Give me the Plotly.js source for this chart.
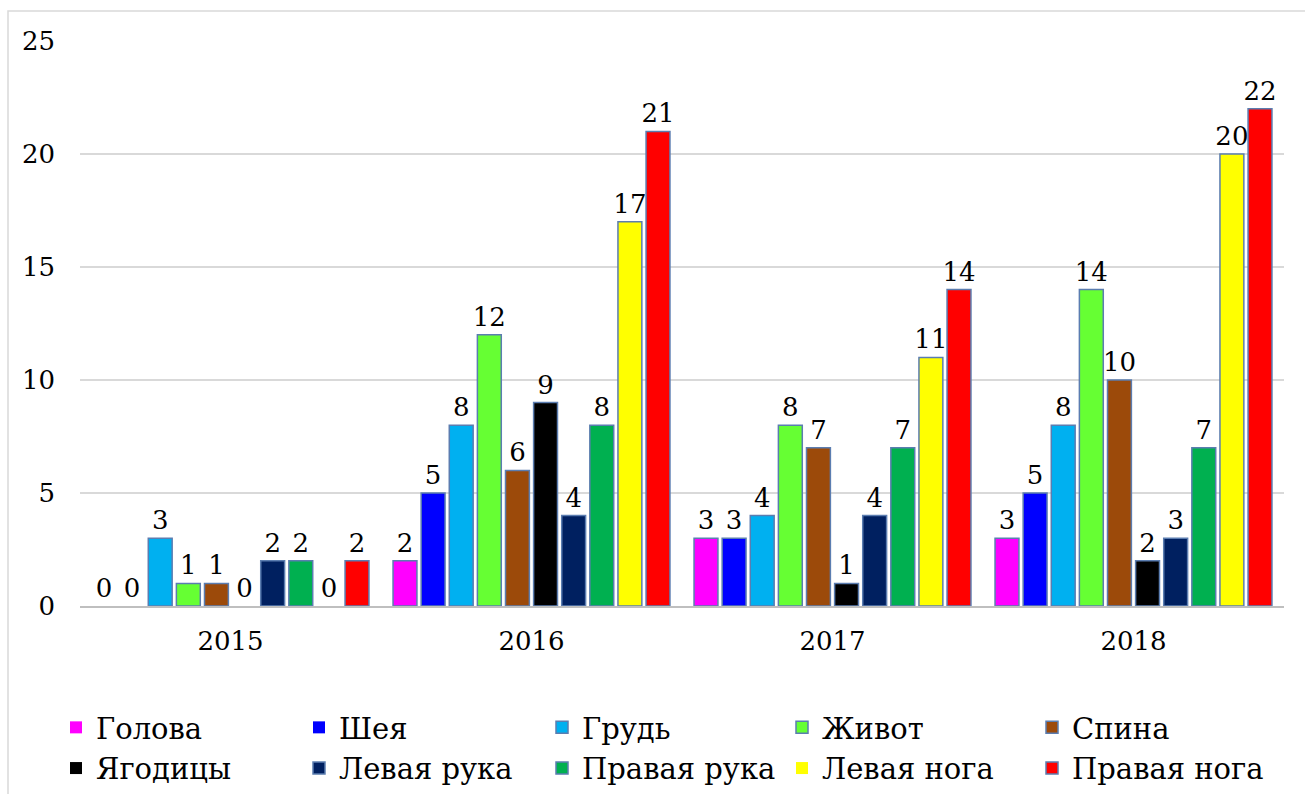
<!DOCTYPE html>
<html>
<head>
<meta charset="utf-8">
<script src="https://cdn.plot.ly/plotly-3.0.1.min.js"></script>
<style>
html,body{margin:0;padding:0;background:#fff;}
#chart{width:1305px;height:794px;}
</style>
</head>
<body>
<div id="chart"></div>
<script>
const years = ['2015', '2016', '2017', '2018'];
const seriesNames = ['Голова', 'Шея', 'Грудь', 'Живот', 'Спина', 'Ягодицы', 'Левая рука', 'Правая рука', 'Левая нога', 'Правая нога'];
const golova = [0, 2, 3, 3];
const sheya = [0, 5, 3, 5];
const grud = [3, 8, 4, 8];
const zhivot = [1, 12, 8, 14];
const spina = [1, 6, 7, 10];
const yagoditsy = [0, 9, 1, 2];
const levayaRuka = [2, 4, 4, 3];
const pravayaRuka = [2, 8, 7, 7];
const levayaNoga = [0, 17, 11, 20];
const pravayaNoga = [2, 21, 14, 22];
const yTicks = [0, 5, 10, 15, 20, 25];

const values = [golova, sheya, grud, zhivot, spina, yagoditsy, levayaRuka, pravayaRuka, levayaNoga, pravayaNoga];
const colors = ['#FF00FF', '#0000FF', '#00B0F0', '#66FF33', '#9C4A0A', '#000000', '#002060', '#00B050', '#FFFF00', '#FF0000'];
const legendIds = ['legend', 'legend2', 'legend3', 'legend4', 'legend5'];
const FONT = 'DejaVu Serif';

const traces = seriesNames.map((name, i) => ({
  type: 'bar',
  name: name,
  x: years,
  y: values[i],
  text: values[i].map(String),
  textposition: 'outside',
  constraintext: 'none',
  cliponaxis: false,
  textfont: {family: FONT, size: 26, color: '#000'},
  marker: {color: colors[i], line: {color: '#5B7DB0', width: values[i].map(v => v === 0 ? 0 : 1.5)}},
  legend: legendIds[i % 5],
  hoverinfo: 'x+y+name'
}));

function px2x(p) { return (p - 80) / 1204; }
const legY = (606 - 702) / 565;
const legX = [56, 299, 542, 782, 1032];
const legendBase = {
  orientation: 'v',
  yanchor: 'top',
  xanchor: 'left',
  y: legY,
  font: {family: FONT, size: 29, color: '#000'},
  bgcolor: 'rgba(0,0,0,0)',
  itemwidth: 30,
  tracegroupgap: 0
};

const layout = {
  width: 1305,
  height: 794,
  margin: {l: 80, r: 21, t: 41, b: 188, autoexpand: false},
  paper_bgcolor: '#fff',
  plot_bgcolor: '#fff',
  barmode: 'group',
  bargap: 0.066,
  bargroupgap: 0.15,
  showlegend: true,
  font: {family: FONT, size: 26, color: '#000'},
  xaxis: {
    type: 'category',
    showline: true,
    linecolor: '#BFBFBF',
    linewidth: 2,
    ticks: '',
    ticklabelstandoff: 11,
    tickfont: {family: FONT, size: 26, color: '#000'},
    showgrid: false,
    zeroline: false
  },
  yaxis: {
    range: [0, 25],
    tickvals: yTicks,
    ticktext: yTicks.map(String),
    showgrid: true,
    gridcolor: '#D9D9D9',
    gridwidth: 1.5,
    zeroline: false,
    showline: false,
    ticks: '',
    ticklabelstandoff: 24,
    tickfont: {family: FONT, size: 26, color: '#000'}
  },
  shapes: [{
    type: 'rect', xref: 'paper', yref: 'paper',
    x0: px2x(8), x1: px2x(1330), y0: (606 - 830) / 565, y1: (606 - 11) / 565,
    line: {color: '#D9D9D9', width: 1.5}, fillcolor: 'rgba(0,0,0,0)', layer: 'below'
  }]
};
legendIds.forEach((id, k) => {
  layout[id] = Object.assign({}, legendBase, {x: px2x(legX[k])});
});

Plotly.newPlot('chart', traces, layout, {displayModeBar: false, staticPlot: true});
</script>
</body>
</html>
